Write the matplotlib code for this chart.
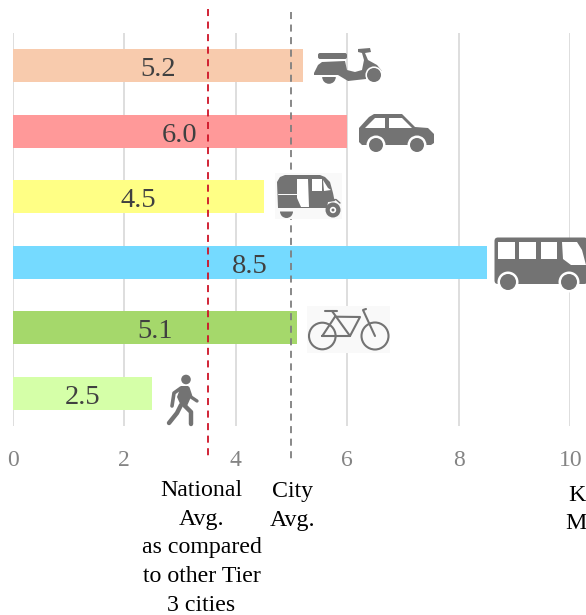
import matplotlib
matplotlib.use('Agg')
import matplotlib.pyplot as plt
from matplotlib.patches import Circle, FancyBboxPatch, Polygon, Rectangle, Wedge

plt.rcParams['font.family'] = ['Liberation Serif', 'DejaVu Serif']

modes = ['Two wheeler', 'Car', 'Auto', 'Bus', 'Cycle', 'Walk']
distance = [5.2, 6.0, 4.5, 8.5, 5.1, 2.5]
bar_colors = ['#F8CBAD', '#FF9999', '#FFFF85', '#75DAFF', '#A5D86B', '#D5FFA8']
xticks = [0, 2, 4, 6, 8, 10]
national_avg = 3.5
city_avg = 5.0

W, H = 586, 615
GRAY = '#737373'

fig = plt.figure(figsize=(W / 100, H / 100), dpi=100)
ax = fig.add_axes([12.7 / W, 1 - 426.1 / H, 557.6 / W, 393.4 / H])

y = list(range(len(modes)))
bars = ax.barh(y, distance, height=0.503, color=bar_colors, zorder=2)
labels = ax.bar_label(bars, labels=['%.1f' % d for d in distance], label_type='center',
                      fontsize=20.5, color='#404040', zorder=5)
for lab in labels:
    lab.set_va('center_baseline')
    lab.xyann = (0, -0.8)
ax.set_xlim(0, 10)
ax.set_ylim(len(modes) - 0.5, -0.5)
ax.set_yticks([])
ax.set_xticks(xticks)
ax.tick_params(axis='x', length=0, pad=17.3, labelsize=17, labelcolor='#848484')
ax.grid(axis='x', color='#D9D9D9', linewidth=1.25, zorder=0)
ax.set_axisbelow(True)
for s in ax.spines.values():
    s.set_visible(False)

# average lines run past the top and bottom of the axes, dashes start at the top
tr = ax.get_xaxis_transform()
ax.plot([national_avg, national_avg], [1.061, -0.081], transform=tr, clip_on=False,
        color='#CE1226', linewidth=1.3, dashes=(3.9, 3.05), zorder=3)
ax.plot([city_avg, city_avg], [1.053, -0.084], transform=tr, clip_on=False,
        color='#7F7F7F', linewidth=1.3, dashes=(3.9, 3.05), zorder=3)

# overlay in pixel units for the vehicle icons and the notes below the axis
ov = fig.add_axes([0, 0, 1, 1], zorder=4)
ov.set_xlim(0, W)
ov.set_ylim(H, 0)
ov.axis('off')
ov.patch.set_alpha(0)


def poly(pts, color=GRAY, **kw):
    ov.add_patch(Polygon(pts, closed=True, facecolor=color, edgecolor='none', **kw))


def circle(cx, cy, r, color=GRAY):
    ov.add_patch(Circle((cx, cy), r, facecolor=color, edgecolor='none'))


def stroke(xs, ys, lw=2.0, color=GRAY):
    ov.plot(xs, ys, color=color, linewidth=lw, solid_capstyle='round', solid_joinstyle='round')


# scooter
ov.add_patch(FancyBboxPatch((319, 54), 27, 4, boxstyle='round,pad=1,rounding_size=2',
                            facecolor=GRAY, edgecolor='none'))
poly([(314, 73), (318, 65), (322, 62), (345, 61), (347, 70), (355, 72), (362, 70), (364, 60),
      (362, 53), (358, 52), (358, 49), (370, 48), (371, 52), (365, 53), (368, 60), (377, 65),
      (382, 71), (373, 67), (368, 70), (366, 79), (348, 81), (338, 75), (314, 75)])
ov.add_patch(Wedge((329, 77), 6.8, 0, 180, facecolor=GRAY, edgecolor='none'))
circle(374, 75, 8.6, 'white')
circle(374, 75, 7)

# car
poly([(359, 128), (369, 117), (374, 114), (402, 114), (415, 127), (428, 128), (434, 134),
      (434, 143), (431, 145), (362, 145), (359, 142)])
poly([(365, 128), (375, 118), (385, 118), (385, 128)], 'white')
poly([(389, 118), (402, 118), (412, 128), (389, 128)], 'white')
for cx in (376, 417):
    circle(cx, 145, 9.5, 'white')
    circle(cx, 145, 7)

# auto rickshaw
ov.add_patch(Rectangle((275, 173), 67, 45.5, facecolor='#F9F9F9', edgecolor='none'))
poly([(277, 182), (280, 177), (285, 175), (320, 175), (325, 177), (330, 182), (333, 193),
      (334, 198), (335, 201), (328, 202), (327, 208), (278, 208)])
poly([(297, 179), (308, 179), (309, 207), (301, 207), (297, 198)], '#FFFFFF')
poly([(312, 179), (322, 179), (322, 191), (312, 191)], '#FFFFFF')
poly([(323, 180), (328, 188), (331, 190), (324, 191)], '#FFFFFF')
stroke([278, 297], [194, 194], lw=0.7, color='#FFFFFF')
stroke([328, 336, 340], [201, 199.5, 203], lw=1.0)
ov.add_patch(Wedge((286.5, 211.5), 6.5, 0, 180, facecolor=GRAY, edgecolor='none'))
circle(333, 210, 7.5)
circle(333, 210, 3.2, '#FFFFFF')
circle(333, 210, 1.5)

# bus
ov.add_patch(FancyBboxPatch((496, 239), 90, 43.5, boxstyle='round,pad=1.5,rounding_size=3.5',
                            facecolor=GRAY, edgecolor='none'))
for x0, x1 in [(498, 515), (519, 536), (541, 557)]:
    ov.add_patch(Rectangle((x0, 242), x1 - x0, 17, facecolor='white', edgecolor='none'))
poly([(562, 242), (577, 242), (582, 250), (586, 265), (571, 265), (563, 259)], 'white')
for cx in (508, 569):
    circle(cx, 282, 10.5, 'white')
    circle(cx, 282, 8)

# bicycle
ov.add_patch(Rectangle((307, 306), 83, 47, facecolor='#F9F9F9', edgecolor='none'))
ov.add_patch(Circle((322.3, 336), 13.3, facecolor='none', edgecolor=GRAY, linewidth=1.5))
ov.add_patch(Circle((375, 336), 13.5, facecolor='none', edgecolor=GRAY, linewidth=1.5))
stroke([322.3, 335, 360, 350, 322.3], [336, 316.7, 317, 336, 336], lw=1.5)
stroke([332, 350], [311, 336], lw=1.5)
stroke([325, 336.7], [310.7, 310.7], lw=1.5)
stroke([375, 363, 366], [336, 310, 309], lw=1.5)

# pedestrian, strokes keep the limbs rounded
circle(186, 379.5, 4.8)
poly([(181, 386), (188, 386), (191, 397), (187, 406), (181, 406), (177, 397)])
stroke([188, 191, 197], [388, 397, 401], lw=2.4)
stroke([181, 174, 172], [388, 393, 406], lw=2.6)
stroke([184, 191, 191], [405, 412, 424], lw=3.2)
stroke([181, 177, 169], [405, 413, 423], lw=3.2)

# notes under the axis, placed by baseline
note = dict(ha='center', va='baseline', fontsize=17.2, color='black')
for text, x0, yy in [
    ('National', 201.3, 495.7),
    ('Avg.', 201.5, 525),
    ('as compared', 201.7, 553.5),
    ('to other Tier', 201.7, 582),
    ('3 cities', 201.5, 611),
    ('City', 292.5, 497),
    ('Avg.', 293, 526),
    ('K', 576.5, 500.7),
    ('M', 575.5, 529),
]:
    ov.text(x0, yy, text, **note)

fig.savefig('out.png', dpi=100)
